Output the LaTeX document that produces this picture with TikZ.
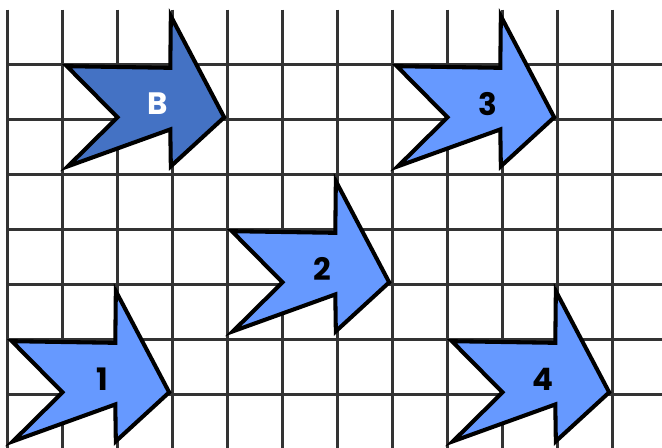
\documentclass[tikz,border=0pt]{standalone}
\usepackage{fontspec}
\setmainfont{Poppins}
\definecolor{arrowdark}{HTML}{4472C4}
\definecolor{arrowlight}{HTML}{6699FF}

\begin{document}
\begin{tikzpicture}[x=1cm,y=1cm]
\tikzset{
  gridline/.style={black!80, line width=1.1pt},
  shapeline/.style={draw=black, line width=2.1pt, line join=miter},
  arrowlabel/.style={font=\fontsize{16}{18}\selectfont\bfseries, inner sep=0pt},
}
\useasboundingbox (-0.136,0.173) rectangle (11.9,-7.97);
\foreach \i in {0,...,11}
  \draw[gridline] (\i,0) -- (\i,-7.97);
\foreach \j in {1,...,7}
  \draw[gridline] (0,-\j) -- (11.9,-\j);
\foreach \nm/\px/\py/\fc/\tc in {B/2/-1.96/arrowdark/white, 3/8/-1.96/arrowlight/black, 2/5/-4.96/arrowlight/black, 1/1/-6.96/arrowlight/black, 4/9/-6.96/arrowlight/black}
{
  \begin{scope}[shift={(\px,\py)}]
  \filldraw[shapeline, fill=\fc] (-0.92,0.93) -- (0.96,0.9) -- (0.97,1.84) -- (1.94,0) -- (0.97,-0.89) -- (0.96,-0.22) -- (-0.9,-0.89) -- (0,0) -- cycle;
  \node[arrowlabel, text=\tc] (label\nm) at (0.73,0.24) {\nm};
  \end{scope}
}
\end{tikzpicture}
\end{document}
